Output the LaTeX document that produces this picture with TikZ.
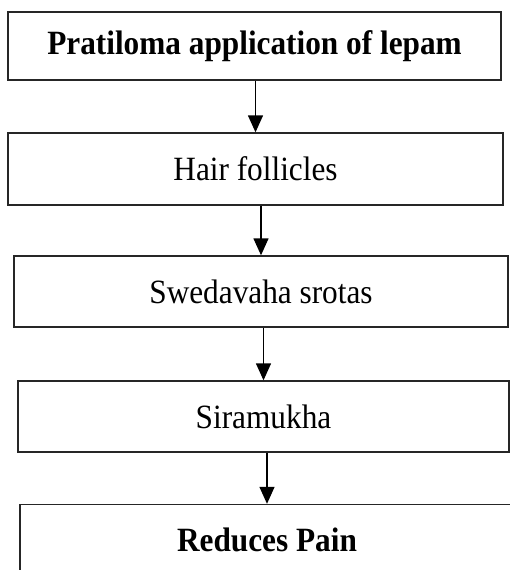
\documentclass[tikz,border=0pt]{standalone}
\usepackage{fontspec}
\setmainfont[FakeStretch=0.92]{Liberation Serif}
\usetikzlibrary{positioning, arrows.meta}

\begin{document}
\begin{tikzpicture}[
        x=1pt, y=-1pt,
        stage/.style={rectangle, draw=black!85, line width=1.4pt, minimum width=493pt, minimum height=70pt, inner sep=0pt, font=\fontsize{34}{38}\selectfont},
        stagebold/.style={stage, font=\fontsize{34}{38}\selectfont\bfseries},
        flow/.style={-{Triangle[length=17pt, width=15pt]}, line width=1.4pt, black},
    ]
    \clip (0,0) rectangle (510,570);
    \fill[white] (0,0) rectangle (510,570);

    % Stages
    \node[stagebold, minimum height=68pt] (lepam) at (254.5,46) {Pratiloma application of lepam};
    \node[stage, minimum width=495pt, minimum height=72pt] (hair) at (255.5,169) {Hair follicles};
    \node[stage, minimum width=494pt, minimum height=71pt] (sweda) at (261,291.5) {Swedavaha srotas};
    \node[stage, minimum width=491pt, minimum height=71pt] (sira) at (263.5,416.5) {Siramukha};
    \node[stagebold, minimum width=494pt, minimum height=71pt] (pain) at (267,540) {Reduces Pain};

    % Arrows
    \draw[flow] (hair.north |- lepam.south) -- (hair.north);
    \draw[flow] (sweda.north |- hair.south) -- (sweda.north);
    \draw[flow] (sira.north |- sweda.south) -- (sira.north);
    \draw[flow] (pain.north |- sira.south) -- (pain.north);
\end{tikzpicture}
\end{document}
